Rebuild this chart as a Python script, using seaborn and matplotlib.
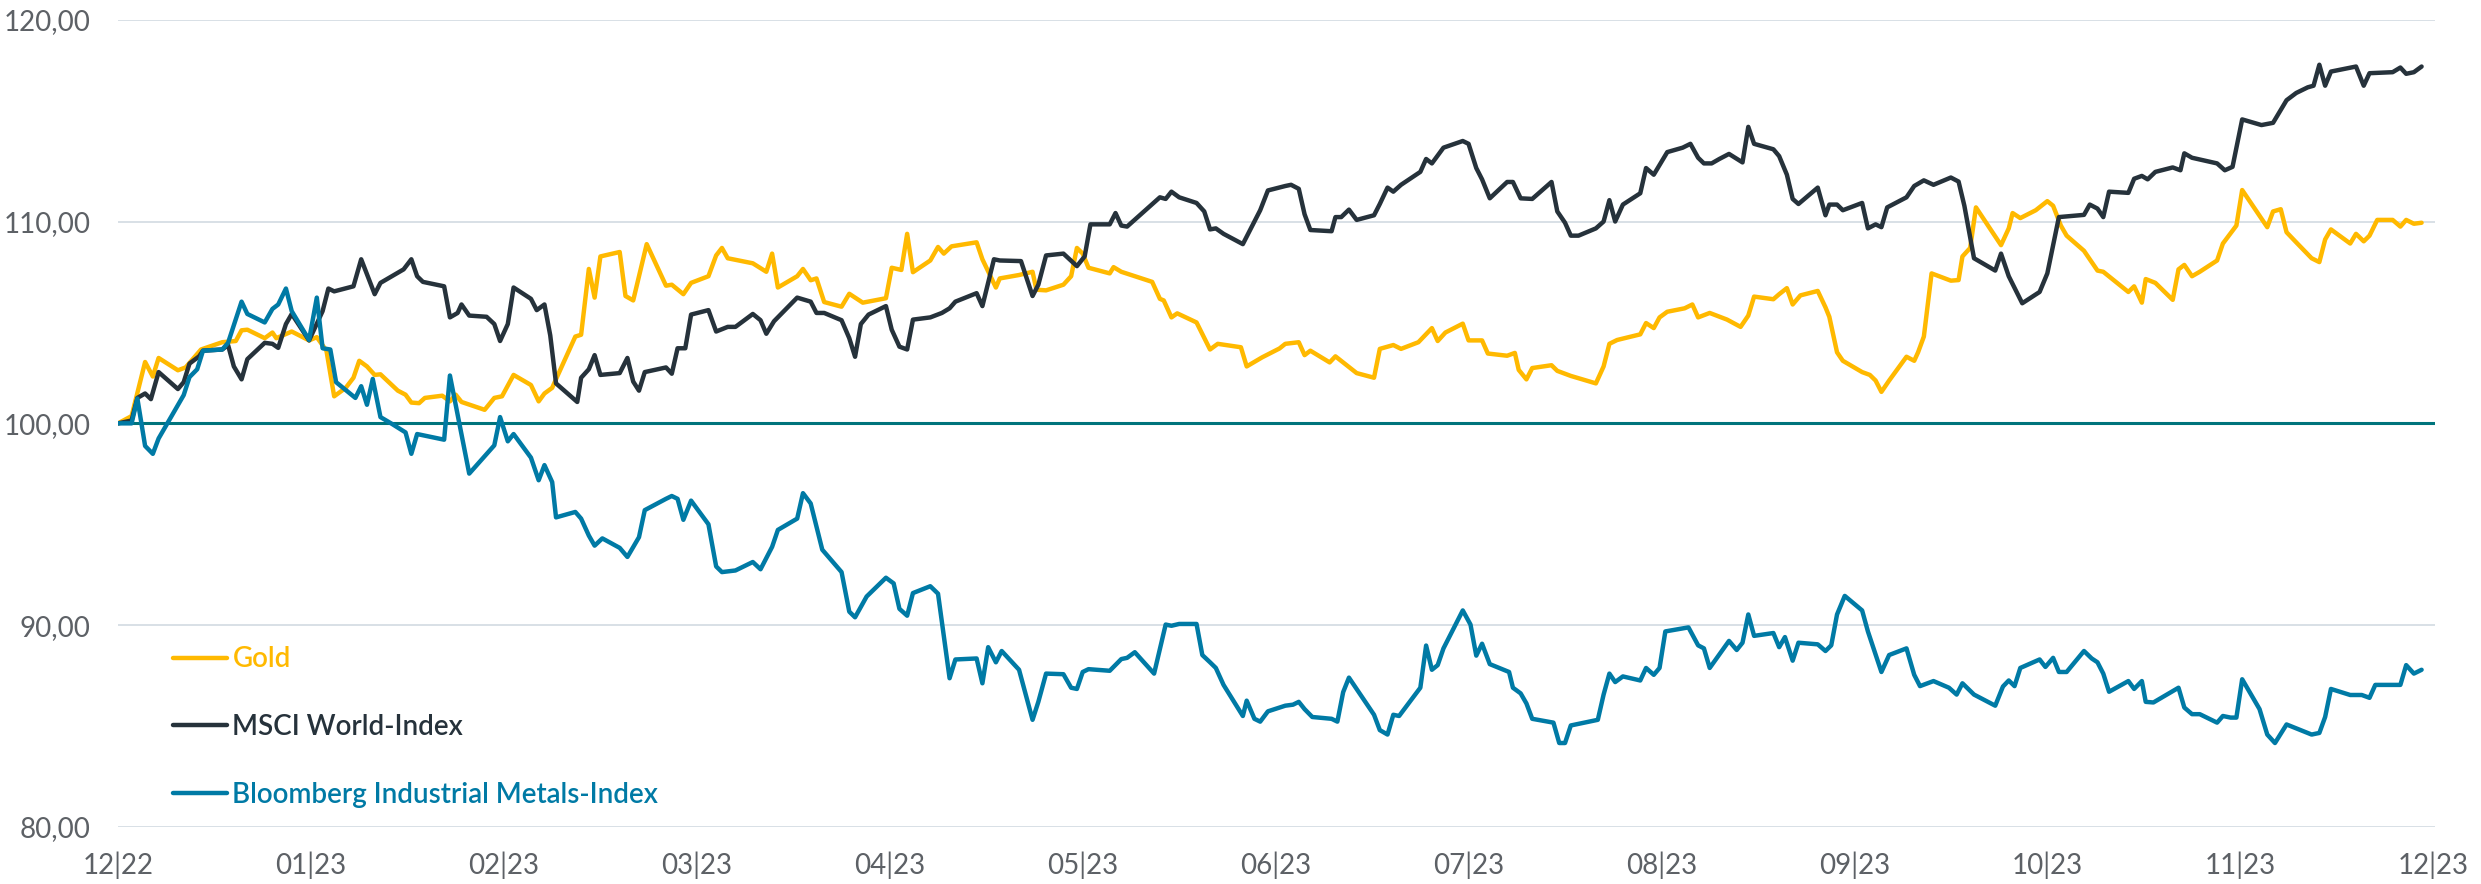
import matplotlib
matplotlib.use("Agg")
import matplotlib.pyplot as plt
from matplotlib.lines import Line2D
import numpy as np
import pandas as pd
import seaborn as sns

# Monatsachse: 0 = 12|22 ... 12 = 12|23
monat_labels = ["12|22", "01|23", "02|23", "03|23", "04|23", "05|23", "06|23",
                "07|23", "08|23", "09|23", "10|23", "11|23", "12|23"]
y_ticks = [80, 90, 100, 110, 120]

reihen = ["Gold", "MSCI World-Index", "Bloomberg Industrial Metals-Index"]
farben = ["#FFB900", "#26323B", "#007AA5"]

gold_monat = [0.00, 0.07, 0.14, 0.18, 0.21, 0.31, 0.35, 0.43, 0.54, 0.61, 0.64, 0.67, 0.76, 0.80, 0.82,
              0.90, 0.99, 1.03, 1.08, 1.12, 1.18, 1.22, 1.25, 1.29, 1.33, 1.36, 1.41, 1.45, 1.49, 1.52,
              1.56, 1.59, 1.68, 1.72, 1.75, 1.78, 1.90, 1.95, 1.99, 2.05, 2.14, 2.18, 2.21, 2.25, 2.28,
              2.37, 2.40, 2.44, 2.47, 2.50, 2.60, 2.63, 2.67, 2.74, 2.84, 2.87, 2.93, 2.97, 3.06, 3.10,
              3.13, 3.16, 3.29, 3.36, 3.39, 3.42, 3.52, 3.55, 3.59, 3.62, 3.66, 3.75, 3.79, 3.86, 3.98,
              4.01, 4.06, 4.09, 4.12, 4.21, 4.25, 4.28, 4.32, 4.45, 4.48, 4.55, 4.57, 4.67, 4.74, 4.76,
              4.81, 4.90, 4.94, 4.97, 5.00, 5.03, 5.14, 5.16, 5.20, 5.29, 5.36, 5.40, 5.42, 5.46, 5.49,
              5.59, 5.66, 5.70, 5.82, 5.85, 5.93, 6.02, 6.05, 6.12, 6.15, 6.18, 6.28, 6.31, 6.42, 6.51,
              6.54, 6.61, 6.65, 6.74, 6.81, 6.84, 6.88, 6.97, 7.00, 7.07, 7.10, 7.20, 7.24, 7.26, 7.30,
              7.33, 7.43, 7.46, 7.53, 7.66, 7.70, 7.73, 7.77, 7.89, 7.92, 7.96, 7.99, 8.03, 8.12, 8.16,
              8.19, 8.25, 8.34, 8.41, 8.45, 8.48, 8.58, 8.61, 8.65, 8.68, 8.72, 8.81, 8.85, 8.87, 8.91,
              8.94, 9.04, 9.08, 9.11, 9.14, 9.18, 9.27, 9.31, 9.33, 9.36, 9.40, 9.50, 9.54, 9.56, 9.60,
              9.63, 9.76, 9.80, 9.82, 9.86, 9.94, 10.00, 10.03, 10.07, 10.10, 10.19, 10.26, 10.29, 10.42,
              10.45, 10.49, 10.51, 10.56, 10.65, 10.68, 10.71, 10.75, 10.79, 10.88, 10.91, 10.98, 11.01,
              11.14, 11.17, 11.21, 11.24, 11.29, 11.37, 11.41, 11.44, 11.47, 11.57, 11.60, 11.64, 11.67,
              11.71, 11.79, 11.83, 11.86, 11.90, 11.94]
gold_wert = [100.0, 100.36, 103.04, 102.32, 103.24, 102.63, 102.77, 103.66, 104.02, 104.08, 104.61, 104.64,
             104.22, 104.50, 104.22, 104.55, 104.11, 104.27, 103.60, 101.34, 101.76, 102.26, 103.10, 102.82,
             102.40, 102.43, 101.98, 101.62, 101.42, 101.03, 101.00, 101.26, 101.37, 101.09, 101.42, 101.06,
             100.67, 101.26, 101.34, 102.40, 101.90, 101.09, 101.48, 101.76, 102.40, 104.30, 104.39, 107.65,
             106.23, 108.27, 108.49, 106.31, 106.09, 108.88, 106.82, 106.87, 106.40, 106.96, 107.29, 108.32,
             108.69, 108.18, 107.93, 107.51, 108.41, 106.73, 107.29, 107.65, 107.09, 107.18, 106.01, 105.78,
             106.42, 105.98, 106.20, 107.71, 107.60, 109.39, 107.49, 108.07, 108.74, 108.41, 108.77, 108.97,
             108.13, 106.73, 107.18, 107.35, 107.51, 106.62, 106.59, 106.87, 107.29, 108.69, 108.41, 107.71,
             107.43, 107.74, 107.51, 107.23, 107.01, 106.17, 106.09, 105.25, 105.45, 105.00, 103.66, 103.94,
             103.77, 102.82, 103.27, 103.71, 103.94, 104.02, 103.38, 103.60, 103.02, 103.32, 102.49, 102.26,
             103.69, 103.88, 103.69, 104.02, 104.72, 104.08, 104.50, 104.94, 104.11, 104.11, 103.46, 103.35,
             103.49, 102.65, 102.18, 102.74, 102.88, 102.60, 102.35, 101.98, 102.82, 103.94, 104.13, 104.41,
             104.97, 104.72, 105.25, 105.53, 105.70, 105.89, 105.25, 105.47, 105.14, 104.78, 105.34, 106.28,
             106.15, 106.40, 106.70, 105.89, 106.34, 106.56, 105.75, 105.28, 103.52, 103.10, 102.54, 102.40,
             102.12, 101.56, 102.12, 103.30, 103.10, 103.52, 104.30, 107.43, 107.07, 107.10, 108.27, 108.69,
             110.70, 108.83, 109.66, 110.42, 110.17, 110.56, 111.01, 110.78, 109.80, 109.30, 108.55, 107.57,
             107.51, 106.51, 106.79, 105.98, 107.15, 106.96, 106.12, 107.63, 107.85, 107.29, 107.51, 108.07,
             108.91, 109.80, 111.56, 109.72, 110.50, 110.61, 109.47, 108.97, 108.18, 107.99, 109.11, 109.61,
             108.91, 109.39, 109.02, 109.30, 110.08, 110.08, 109.75, 110.08, 109.89, 109.94]

msci_monat = [0.00, 0.07, 0.10, 0.14, 0.17, 0.21, 0.31, 0.34, 0.37, 0.42, 0.44, 0.54, 0.57, 0.60, 0.64,
              0.67, 0.76, 0.80, 0.83, 0.87, 0.90, 0.99, 1.06, 1.09, 1.12, 1.22, 1.26, 1.33, 1.36, 1.48,
              1.52, 1.55, 1.58, 1.69, 1.72, 1.76, 1.78, 1.82, 1.91, 1.95, 1.98, 2.02, 2.05, 2.14, 2.17,
              2.21, 2.24, 2.27, 2.38, 2.40, 2.44, 2.47, 2.50, 2.60, 2.64, 2.67, 2.70, 2.73, 2.84, 2.87,
              2.90, 2.94, 2.97, 3.06, 3.10, 3.16, 3.20, 3.29, 3.33, 3.36, 3.40, 3.52, 3.59, 3.62, 3.66,
              3.75, 3.79, 3.82, 3.85, 3.89, 3.98, 4.01, 4.05, 4.09, 4.12, 4.21, 4.27, 4.31, 4.34, 4.45,
              4.48, 4.54, 4.57, 4.68, 4.74, 4.77, 4.81, 4.90, 4.97, 5.01, 5.04, 5.14, 5.17, 5.20, 5.23,
              5.40, 5.43, 5.46, 5.50, 5.59, 5.63, 5.66, 5.69, 5.73, 5.83, 5.92, 5.96, 6.05, 6.08, 6.12,
              6.15, 6.18, 6.29, 6.31, 6.34, 6.38, 6.42, 6.51, 6.54, 6.58, 6.61, 6.65, 6.75, 6.78, 6.81,
              6.87, 6.97, 7.00, 7.04, 7.07, 7.11, 7.20, 7.23, 7.27, 7.33, 7.43, 7.46, 7.50, 7.53, 7.57,
              7.66, 7.70, 7.73, 7.76, 7.80, 7.89, 7.92, 7.96, 8.03, 8.11, 8.15, 8.19, 8.22, 8.26, 8.30,
              8.35, 8.42, 8.45, 8.48, 8.58, 8.61, 8.65, 8.68, 8.71, 8.81, 8.85, 8.87, 8.91, 8.94, 9.04,
              9.07, 9.11, 9.14, 9.17, 9.27, 9.31, 9.36, 9.41, 9.50, 9.54, 9.57, 9.62, 9.73, 9.76, 9.80,
              9.87, 9.96, 10.00, 10.06, 10.19, 10.22, 10.26, 10.29, 10.32, 10.42, 10.45, 10.49, 10.52,
              10.56, 10.65, 10.69, 10.71, 10.75, 10.88, 10.92, 10.96, 11.01, 11.11, 11.17, 11.24, 11.29,
              11.35, 11.38, 11.41, 11.44, 11.47, 11.60, 11.64, 11.67, 11.79, 11.83, 11.86, 11.90, 11.94]
msci_wert = [100.0, 100.14, 101.26, 101.48, 101.20, 102.54, 101.70, 102.04, 102.96, 103.32, 103.60, 103.66,
             103.88, 102.82, 102.18, 103.18, 103.99, 103.94, 103.74, 104.92, 105.42, 104.11, 105.56, 106.68,
             106.54, 106.79, 108.13, 106.40, 106.96, 107.63, 108.13, 107.29, 107.01, 106.79, 105.25, 105.47,
             105.89, 105.34, 105.28, 104.92, 104.08, 104.92, 106.73, 106.17, 105.61, 105.89, 104.36, 101.98,
             101.06, 102.26, 102.68, 103.38, 102.40, 102.49, 103.24, 102.07, 101.62, 102.54, 102.77, 102.46,
             103.72, 103.72, 105.39, 105.61, 104.55, 104.78, 104.78, 105.42, 105.11, 104.44, 105.06, 106.23,
             106.03, 105.47, 105.47, 105.11, 104.22, 103.30, 104.92, 105.39, 105.81, 104.64, 103.80, 103.66,
             105.14, 105.25, 105.47, 105.70, 106.03, 106.45, 105.81, 108.13, 108.07, 108.04, 106.31, 106.87,
             108.32, 108.41, 107.79, 108.27, 109.86, 109.86, 110.42, 109.80, 109.75, 111.20, 111.12, 111.48,
             111.20, 110.92, 110.50, 109.61, 109.66, 109.39, 108.88, 110.56, 111.54, 111.76, 111.82, 111.62,
             110.36, 109.58, 109.52, 110.22, 110.22, 110.59, 110.08, 110.31, 110.87, 111.68, 111.48, 111.82,
             112.46, 113.10, 112.88, 113.66, 113.99, 113.85, 112.65, 112.09, 111.15, 111.96, 111.96, 111.15,
             111.12, 111.96, 110.50, 109.94, 109.30, 109.30, 109.66, 110.00, 111.06, 110.00, 110.84, 111.40,
             112.65, 112.32, 113.44, 113.66, 113.85, 113.16, 112.88, 112.88, 113.10, 113.35, 112.93, 114.69,
             113.85, 113.58, 113.24, 112.32, 111.12, 110.87, 111.68, 110.31, 110.84, 110.84, 110.56, 110.92,
             109.66, 109.86, 109.72, 110.70, 111.20, 111.76, 112.04, 111.82, 112.18, 111.98, 110.78, 108.18,
             107.57, 108.41, 107.29, 105.95, 106.51, 107.43, 110.22, 110.33, 110.84, 110.64, 110.22, 111.48,
             111.42, 112.12, 112.26, 112.09, 112.46, 112.68, 112.54, 113.38, 113.16, 112.88, 112.54, 112.71,
             115.06, 114.78, 114.89, 116.01, 116.37, 116.65, 116.73, 117.77, 116.73, 117.43, 117.68, 116.73,
             117.35, 117.40, 117.63, 117.32, 117.40, 117.68]

metalle_monat = [0.00, 0.07, 0.10, 0.14, 0.18, 0.21, 0.34, 0.37, 0.41, 0.44, 0.54, 0.57, 0.64, 0.67, 0.76,
                 0.80, 0.83, 0.87, 0.90, 0.99, 1.03, 1.06, 1.10, 1.13, 1.23, 1.26, 1.29, 1.32, 1.36, 1.42,
                 1.49, 1.52, 1.55, 1.69, 1.72, 1.82, 1.95, 1.98, 2.02, 2.05, 2.14, 2.18, 2.21, 2.25, 2.27,
                 2.37, 2.40, 2.44, 2.47, 2.51, 2.60, 2.64, 2.70, 2.73, 2.84, 2.87, 2.90, 2.93, 2.97, 3.06,
                 3.10, 3.13, 3.20, 3.29, 3.33, 3.39, 3.42, 3.52, 3.55, 3.59, 3.65, 3.75, 3.79, 3.82, 3.88,
                 3.98, 4.02, 4.05, 4.09, 4.12, 4.21, 4.25, 4.31, 4.34, 4.45, 4.48, 4.51, 4.55, 4.58, 4.67,
                 4.74, 4.77, 4.81, 4.90, 4.94, 4.97, 5.00, 5.03, 5.14, 5.20, 5.23, 5.27, 5.37, 5.43, 5.46,
                 5.50, 5.59, 5.62, 5.66, 5.69, 5.73, 5.83, 5.85, 5.89, 5.92, 5.96, 6.05, 6.09, 6.12, 6.15,
                 6.19, 6.29, 6.32, 6.35, 6.38, 6.51, 6.54, 6.58, 6.61, 6.64, 6.75, 6.78, 6.81, 6.84, 6.87,
                 6.97, 7.01, 7.04, 7.07, 7.11, 7.21, 7.23, 7.27, 7.30, 7.33, 7.44, 7.47, 7.50, 7.53, 7.67,
                 7.70, 7.73, 7.76, 7.80, 7.89, 7.92, 7.96, 7.99, 8.02, 8.14, 8.19, 8.22, 8.25, 8.35, 8.39,
                 8.42, 8.45, 8.48, 8.58, 8.61, 8.64, 8.68, 8.71, 8.81, 8.85, 8.88, 8.91, 8.95, 9.04, 9.07,
                 9.14, 9.18, 9.27, 9.31, 9.34, 9.41, 9.49, 9.53, 9.56, 9.62, 9.73, 9.77, 9.80, 9.83, 9.86,
                 9.96, 9.99, 10.03, 10.06, 10.10, 10.19, 10.23, 10.26, 10.29, 10.32, 10.42, 10.45, 10.49,
                 10.51, 10.55, 10.68, 10.71, 10.75, 10.79, 10.88, 10.91, 10.95, 10.98, 11.01, 11.10, 11.14,
                 11.18, 11.24, 11.37, 11.41, 11.44, 11.47, 11.57, 11.63, 11.67, 11.70, 11.83, 11.86, 11.90,
                 11.94]
metalle_wert = [100.0, 100.0, 101.23, 98.88, 98.49, 99.25, 101.40, 102.29, 102.68, 103.60, 103.66, 103.99,
                106.03, 105.42, 105.00, 105.67, 105.89, 106.68, 105.56, 104.13, 106.23, 103.72, 103.66, 102.04,
                101.26, 101.84, 100.92, 102.20, 100.31, 99.97, 99.55, 98.49, 99.47, 99.19, 102.37, 97.51,
                98.91, 100.31, 99.11, 99.47, 98.30, 97.18, 97.93, 97.09, 95.34, 95.61, 95.28, 94.44, 93.94,
                94.30, 93.83, 93.38, 94.36, 95.70, 96.26, 96.40, 96.26, 95.22, 96.17, 95.00, 92.91, 92.63,
                92.71, 93.13, 92.77, 93.88, 94.72, 95.28, 96.54, 96.03, 93.74, 92.63, 90.67, 90.39, 91.42,
                92.35, 92.07, 90.81, 90.47, 91.59, 91.93, 91.56, 87.37, 88.30, 88.35, 87.12, 88.91, 88.16,
                88.72, 87.79, 85.31, 86.20, 87.60, 87.57, 86.90, 86.84, 87.68, 87.82, 87.74, 88.32, 88.38,
                88.66, 87.60, 90.03, 89.97, 90.06, 90.06, 88.52, 88.16, 87.88, 87.04, 85.50, 86.26, 85.36,
                85.22, 85.73, 86.01, 86.06, 86.20, 85.84, 85.45, 85.36, 85.22, 86.68, 87.40, 85.56, 84.80,
                84.58, 85.56, 85.50, 86.90, 88.99, 87.79, 88.02, 88.85, 90.73, 90.03, 88.49, 89.08, 88.07,
                87.68, 86.90, 86.62, 86.12, 85.36, 85.17, 84.16, 84.16, 85.03, 85.31, 86.56, 87.60, 87.18,
                87.46, 87.26, 87.88, 87.54, 87.88, 89.69, 89.89, 89.00, 88.85, 87.88, 89.22, 88.77, 89.13,
                90.53, 89.47, 89.61, 88.91, 89.41, 88.24, 89.13, 89.05, 88.72, 89.00, 90.53, 91.45, 90.73,
                89.69, 87.68, 88.52, 88.85, 87.54, 86.98, 87.23, 86.90, 86.56, 87.12, 86.56, 86.01, 86.96,
                87.26, 86.98, 87.88, 88.30, 87.93, 88.38, 87.68, 87.68, 88.72, 88.35, 88.16, 87.60, 86.70,
                87.23, 86.84, 87.23, 86.20, 86.17, 86.90, 85.92, 85.59, 85.59, 85.17, 85.50, 85.42, 85.42,
                87.32, 85.84, 84.58, 84.16, 85.08, 84.58, 84.66, 85.45, 86.84, 86.54, 86.54, 86.40, 87.04,
                87.04, 88.02, 87.60, 87.79]

df = pd.concat([
    pd.DataFrame({"Monat": gold_monat, "Wert": gold_wert, "Reihe": reihen[0]}),
    pd.DataFrame({"Monat": msci_monat, "Wert": msci_wert, "Reihe": reihen[1]}),
    pd.DataFrame({"Monat": metalle_monat, "Wert": metalle_wert, "Reihe": reihen[2]}),
], ignore_index=True)

sns.set_theme(style="white")
plt.rcParams["font.family"] = ["Lato", "DejaVu Sans"]

fig = plt.figure(figsize=(24.81, 8.84), dpi=100)
ax = fig.add_axes([0.0476, 0.0645, 0.9339, 0.9132])

# Nulllinie bei 100
ax.axhline(100, color="#00747C", lw=2.2, zorder=1.5)
sns.lineplot(data=df, x="Monat", y="Wert", hue="Reihe", hue_order=reihen,
             palette=dict(zip(reihen, farben)), estimator=None, sort=False,
             linewidth=3.2, legend=False, ax=ax, zorder=3)

ax.set_xlim(0, 12.01)
ax.set_ylim(80, 120)
ax.set_xticks(range(len(monat_labels)))
ax.set_xticklabels(monat_labels)
ax.set_yticks(y_ticks)
ax.set_yticklabels([f"{v:.2f}".replace(".", ",") for v in y_ticks])
ax.set_xlabel("")
ax.set_ylabel("")
ax.grid(axis="y", color="#d2dae1", lw=1.2)
ax.grid(axis="x", visible=False)
for s in ax.spines.values():
    s.set_visible(False)
ax.tick_params(axis="both", length=0, labelsize=20, colors="#5d6166")
ax.tick_params(axis="y", pad=20)
ax.tick_params(axis="x", pad=18)

handles = [Line2D([], [], color=c, lw=3.2) for c in farben]
leg = ax.legend(handles, reihen, loc="lower left", bbox_to_anchor=(0.0237, 0.024),
                frameon=False, prop={"size": 20, "weight": "semibold"},
                handlelength=1.94, handletextpad=0.2,
                labelspacing=1.5, borderpad=0, borderaxespad=0)
for t, c in zip(leg.get_texts(), farben):
    t.set_color(c)

fig.savefig("out.png", dpi=100)
